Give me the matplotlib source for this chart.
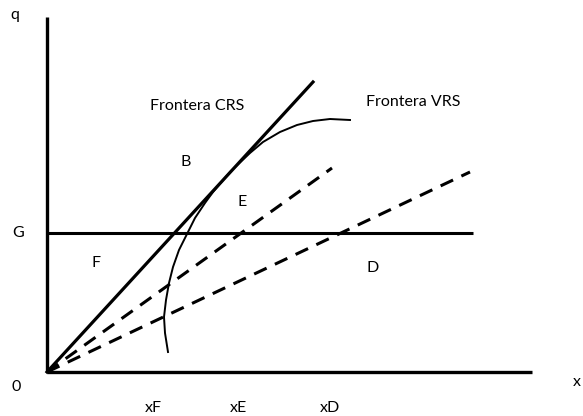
import matplotlib.pyplot as plt

# diagram units: origin at the axes corner
axis_x_end = 485
axis_y_end = 355

crs_x = [0, 266]
crs_y = [0, 290]

dash_e_x = [0, 285]
dash_e_y = [0, 204]
dash_d_x = [0, 423]
dash_d_y = [0, 200]

g_level = 139
g_x_end = 426

vrs_x = [121, 118, 117, 119, 122, 126, 132, 140, 148, 158, 166, 183, 203, 216, 233, 250, 266, 283, 303]
vrs_y = [20, 39, 55, 72, 89, 105, 122, 138, 154, 169, 180, 200, 219, 230, 240, 247, 251, 253, 252]

labels = ['Frontera CRS', 'Frontera VRS', 'B', 'E', 'F', 'D']
label_x = [150, 366, 139, 195, 49, 326]
label_y = [266, 270, 210, 170, 109, 104]

tick_names = ['xF', 'xE', 'xD']
tick_x = [106, 191, 283]

plt.rcParams['font.family'] = ['Lato', 'DejaVu Sans']
fig = plt.figure(figsize=(5.83, 4.16), dpi=100)
ax = fig.add_axes([0, 0, 1, 1])
ax.set_xlim(-47, 536)
ax.set_ylim(-44, 372)
ax.axis('off')

ax.plot([0, axis_x_end], [0, 0], color='black', lw=2.4, solid_capstyle='butt')
ax.plot([0, 0], [0, axis_y_end], color='black', lw=2.4, solid_capstyle='butt')
ax.plot([0, g_x_end], [g_level, g_level], color='black', lw=2.2, solid_capstyle='butt')
ax.plot(crs_x, crs_y, color='black', lw=2.3)
ax.plot(dash_e_x, dash_e_y, color='black', lw=2.2, dashes=(4.5, 3))
ax.plot(dash_d_x, dash_d_y, color='black', lw=2.2, dashes=(4.5, 3))
ax.plot(vrs_x, vrs_y, color='black', lw=1.4, solid_joinstyle='round')

for t, x, y in zip(labels, label_x, label_y):
    ax.text(x, y, t, fontsize=11.5, ha='center', va='center')

for t, x in zip(tick_names, tick_x):
    ax.text(x, -36, t, fontsize=11.5, ha='center', va='center')

ax.text(-32, 357, 'q', fontsize=11.5, ha='center', va='center')
ax.text(-29, 139, 'G', fontsize=11.5, ha='center', va='center')
ax.text(-31, -15, '0', fontsize=11.5, ha='center', va='center')
ax.text(530, -10, 'x', fontsize=11.5, ha='center', va='center')

fig.savefig('out.png', dpi=100)
